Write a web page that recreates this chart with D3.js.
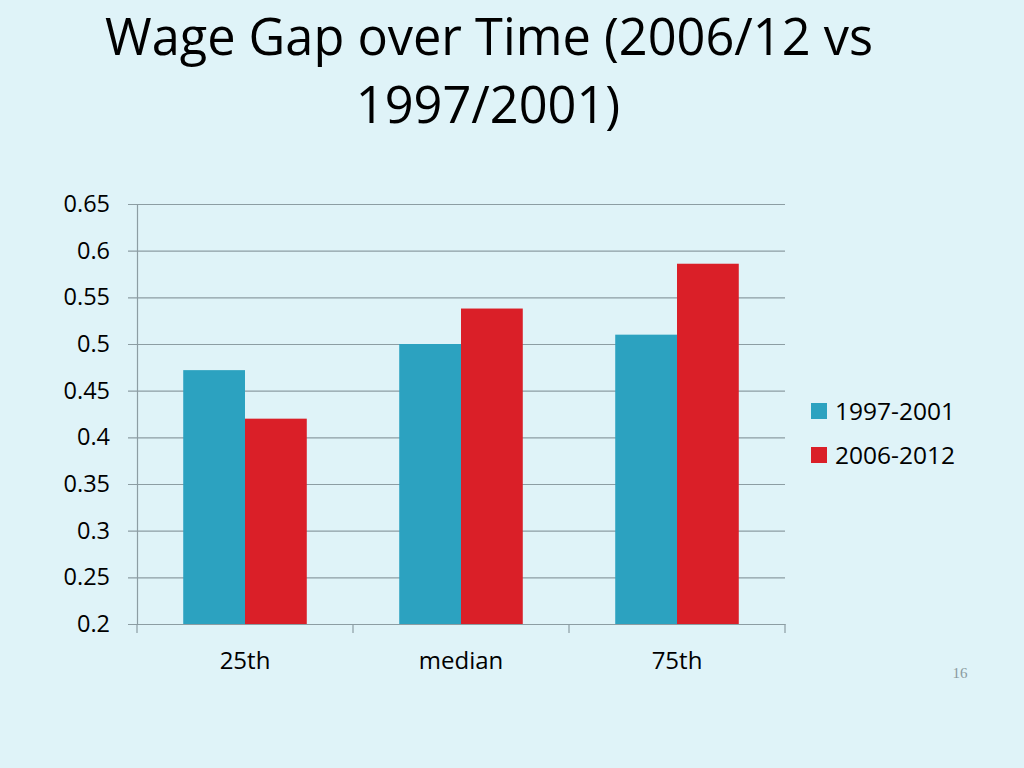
<!DOCTYPE html>
<html>
<head>
<meta charset="utf-8">
<script src="https://cdn.jsdelivr.net/npm/d3@7"></script>
<style>
  html, body { margin: 0; padding: 0; background: #dff3f8; }
  svg { display: block; font-family: "Open Sans", sans-serif; }
</style>
</head>
<body>
<svg id="chart" width="1024" height="768"></svg>
<script>
// data
const categories = ['25th', 'median', '75th'];
const series = ['1997-2001', '2006-2012'];
const values1997 = [0.472, 0.500, 0.510];
const values2006 = [0.420, 0.538, 0.586];
const yTicks = [0.2, 0.25, 0.3, 0.35, 0.4, 0.45, 0.5, 0.55, 0.6, 0.65];
const colors = ['#2ca2c0', '#da1f28'];

const rows = categories.map((c, i) => ({ cat: c, vals: [values1997[i], values2006[i]] }));

const svg = d3.select('#chart');
const margin = { top: 204, left: 137, right: 239, bottom: 144 };
const width = 1024 - margin.left - margin.right;
const height = 768 - margin.top - margin.bottom;

// title
const title = svg.append('text')
    .attr('text-anchor', 'middle')
    .attr('fill', '#000')
    .style('font-size', '50.5px');
title.append('tspan').attr('x', 489).attr('y', 55).text('Wage Gap over Time (2006/12 vs');
title.append('tspan').attr('x', 488).attr('y', 123).text('1997/2001)');

const g = svg.append('g').attr('transform', `translate(${margin.left},${margin.top})`);

const x0 = d3.scaleBand().domain(categories).range([0, width]).padding(0);
const bw = x0.bandwidth();
const x1 = d3.scaleBand().domain(series).range([bw * 0.214, bw * 0.786]).padding(0);
const y = d3.scaleLinear().domain([0.2, 0.65]).range([height, 0]);

// gridlines with left tick stubs
g.append('g')
    .attr('class', 'grid')
    .call(d3.axisLeft(y).tickValues(yTicks).tickSize(-width).tickFormat(''))
    .call(a => a.select('.domain').remove())
    .call(a => a.selectAll('line').attr('stroke', '#8c9da3').attr('stroke-width', 1.2).attr('x1', -9));

// bars
const groups = g.selectAll('.cat')
    .data(rows)
    .join('g')
    .attr('transform', d => `translate(${x0(d.cat)},0)`);

groups.selectAll('rect')
    .data(d => d.vals.map((v, i) => ({ s: series[i], v: v, i: i })))
    .join('rect')
    .attr('x', d => x1(d.s))
    .attr('width', x1.bandwidth())
    .attr('y', d => y(d.v))
    .attr('height', d => y(0.2) - y(d.v))
    .attr('fill', d => colors[d.i]);

// y axis
const yAxis = g.append('g')
    .call(d3.axisLeft(y).tickValues(yTicks).tickSize(0).tickPadding(27).tickFormat(d => d3.format('')(+d.toFixed(2))));
yAxis.select('.domain').attr('stroke', '#8c9da3').attr('stroke-width', 1.2);
yAxis.selectAll('text').attr('fill', '#000').style('font-size', '23.5px').style('font-family', '"Open Sans", sans-serif');

// x axis
const xAxis = g.append('g')
    .attr('transform', `translate(0,${height})`)
    .call(d3.axisBottom(x0).tickSize(0).tickPadding(28));
xAxis.select('.domain').attr('stroke', '#8c9da3').attr('stroke-width', 1.2);
xAxis.selectAll('text').attr('fill', '#000').style('font-size', '24px').style('font-family', '"Open Sans", sans-serif');

// tick marks at category boundaries
const bounds = [0].concat(categories.map(c => x0(c) + bw));
g.append('g').selectAll('line')
    .data(bounds)
    .join('line')
    .attr('x1', d => d).attr('x2', d => d)
    .attr('y1', height).attr('y2', height + 9)
    .attr('stroke', '#8c9da3').attr('stroke-width', 1.2);

// legend
const legend = svg.append('g').attr('transform', 'translate(811,403)');
const item = legend.selectAll('g')
    .data(series)
    .join('g')
    .attr('transform', (d, i) => `translate(0,${i * 44})`);
item.append('rect').attr('width', 16).attr('height', 16).attr('fill', (d, i) => colors[i]);
item.append('text')
    .attr('x', 24).attr('y', 17)
    .attr('fill', '#000')
    .style('font-size', '24.5px')
    .text(d => d);

// slide number
svg.append('text')
    .attr('x', 960).attr('y', 678)
    .attr('text-anchor', 'middle')
    .attr('fill', '#8a9a9e')
    .style('font-family', '"Liberation Serif", serif')
    .style('font-size', '15px')
    .text('16');
</script>
</body>
</html>
